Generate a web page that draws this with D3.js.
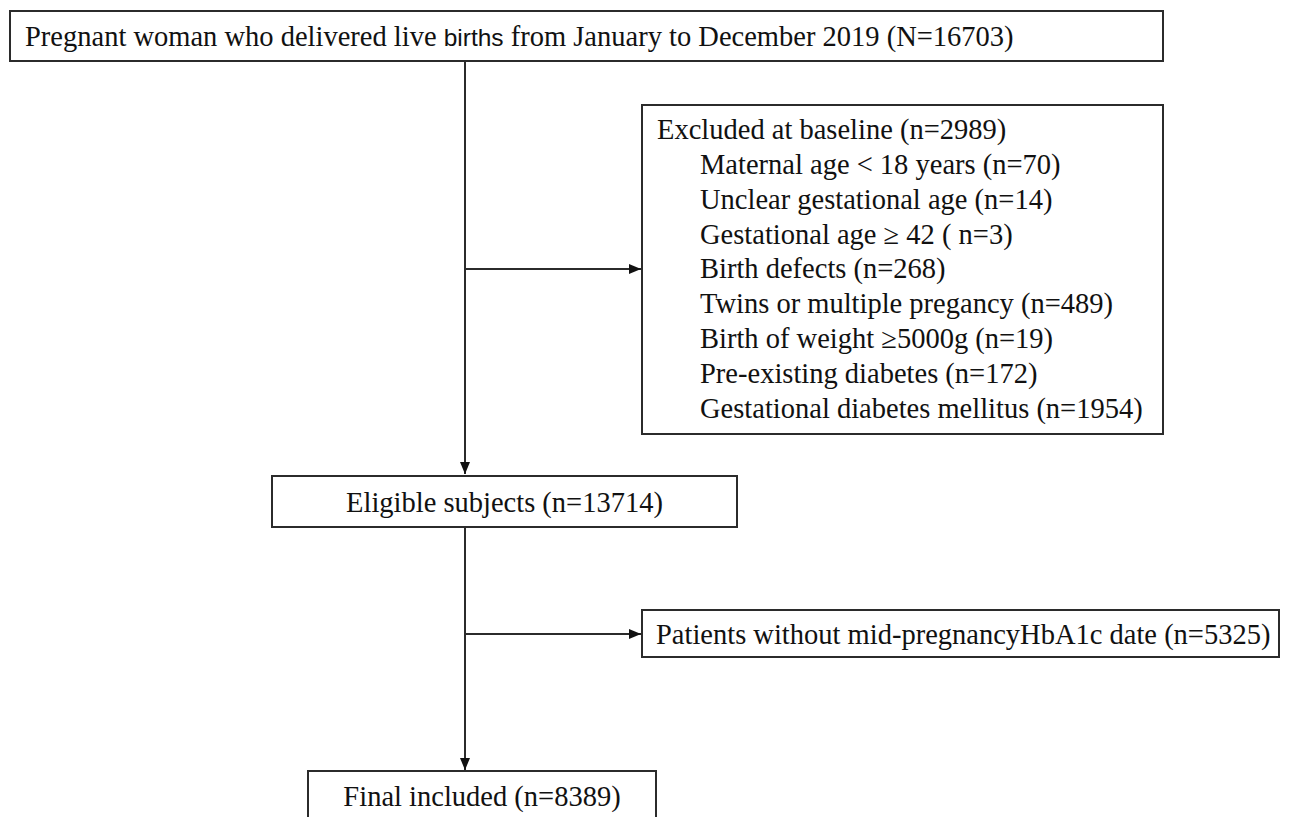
<!DOCTYPE html>
<html>
<head>
<meta charset="utf-8">
<script src="https://cdn.jsdelivr.net/npm/d3@7"></script>
<style>
  html, body { margin: 0; padding: 0; background: #fff; }
  svg text { font-family: "Liberation Serif", "Times New Roman", serif; fill: #111; }
</style>
</head>
<body>
<svg id="chart" width="1290" height="817"></svg>
<script>
// Flowchart content
const topLabelParts = ["Pregnant woman who delivered live ", "births", " from January to December 2019 (N=16703)"];
const mainSteps = ["Eligible subjects (n=13714)", "Final included (n=8389)"];
const exclusionTitle = "Excluded at baseline (n=2989)";
const exclusionItems = [
    "Maternal age < 18 years (n=70)",
    "Unclear gestational age (n=14)",
    "Gestational age \u2265 42 ( n=3)",
    "Birth defects (n=268)",
    "Twins or multiple pregancy (n=489)",
    "Birth of weight \u22655000g (n=19)",
    "Pre-existing diabetes (n=172)",
    "Gestational diabetes mellitus (n=1954)"
];
const secondExclusion = "Patients without mid-pregnancyHbA1c date (n=5325)";

const svg = d3.select("#chart");
const stroke = "#2b2b2b";
const fontSize = 28.5;
const spineX = 465;

// arrow marker
svg.append("defs").append("marker")
    .attr("id", "arrow")
    .attr("viewBox", "0 0 12 10")
    .attr("refX", 12).attr("refY", 5)
    .attr("markerWidth", 12).attr("markerHeight", 10)
    .attr("markerUnits", "userSpaceOnUse")
    .attr("orient", "auto")
    .append("path")
    .attr("d", "M0,0 L12,5 L0,10 Z")
    .attr("fill", "#111");

function box(x, y, w, h) {
    svg.append("rect")
        .attr("x", x).attr("y", y)
        .attr("width", w).attr("height", h)
        .attr("fill", "#fff")
        .attr("stroke", stroke)
        .attr("stroke-width", 2);
}

function arrow(x1, y1, x2, y2) {
    svg.append("line")
        .attr("x1", x1).attr("y1", y1)
        .attr("x2", x2).attr("y2", y2)
        .attr("stroke", stroke)
        .attr("stroke-width", 2)
        .attr("marker-end", "url(#arrow)");
}

// connectors
arrow(spineX, 62, spineX, 474);
arrow(spineX, 269, 641, 269);
arrow(spineX, 528, spineX, 770);
arrow(spineX, 634, 641, 634);

// top box ("births" is set in a sans face in the original)
box(10, 11, 1153, 50);
const topText = svg.append("text")
    .attr("x", 25).attr("y", 46)
    .style("font-size", fontSize + "px");
topText.selectAll("tspan")
    .data(topLabelParts)
    .join("tspan")
    .style("font-family", (d, i) => i === 1 ? "'Liberation Sans', Arial, sans-serif" : null)
    .style("font-size", (d, i) => i === 1 ? "24.5px" : null)
    .text(d => d);

// exclusion box
box(642, 105, 521, 329);
svg.append("text")
    .attr("x", 657).attr("y", 139)
    .style("font-size", fontSize + "px")
    .text(exclusionTitle);
svg.selectAll("text.item")
    .data(exclusionItems)
    .join("text")
    .attr("class", "item")
    .attr("x", 700)
    .attr("y", (d, i) => 174 + i * 34.8)
    .style("font-size", fontSize + "px")
    .text(d => d);

// eligible box
box(272, 476, 465, 51);
svg.append("text")
    .attr("x", (272 + 737) / 2).attr("y", 512)
    .attr("text-anchor", "middle")
    .style("font-size", fontSize + "px")
    .text(mainSteps[0]);

// second exclusion box
box(642, 610, 637, 47);
svg.append("text")
    .attr("x", 656).attr("y", 644)
    .style("font-size", fontSize + "px")
    .text(secondExclusion);

// final box (runs off the bottom)
box(308, 771, 348, 80);
svg.append("text")
    .attr("x", (308 + 656) / 2).attr("y", 806)
    .attr("text-anchor", "middle")
    .style("font-size", fontSize + "px")
    .text(mainSteps[1]);
</script>
</body>
</html>
